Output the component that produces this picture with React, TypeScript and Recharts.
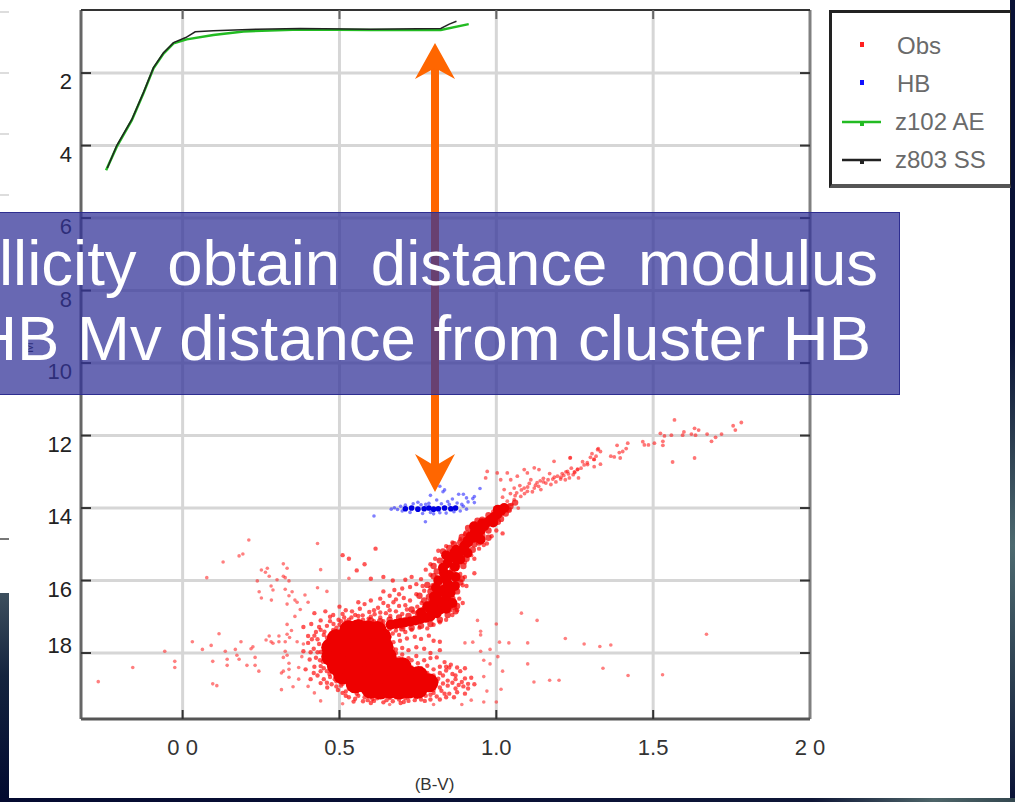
import { ComposedChart, Scatter, XAxis, YAxis, CartesianGrid, ReferenceLine, Legend } from "recharts";

type Pt = [number, number];

const xTicks = [0, 0.5, 1, 1.5, 2];
const xTickLabels = ["0 0", "0.5", "1.0", "1.5", "2 0"];
const yTicks = [2, 4, 6, 8, 10, 12, 14, 16, 18];
const xDomain = [-0.324, 2.0];
const yDomain = [0.26, 19.82];
const legendNames = ["Obs", "HB", "z102 AE", "z803 SS"];
const legendColors = ["#ff2020", "#1010ff", "#22bb22", "#222222"];

// main sequence turnoff, dense part
const obsCore: Pt[] = [
  [0.53, 17.36], [0.56, 17.33], [0.59, 17.36], [0.62, 17.38],
  [0.49, 17.6], [0.52, 17.58], [0.55, 17.6], [0.58, 17.6], [0.61, 17.58], [0.635, 17.56],
  [0.472, 17.85], [0.5, 17.84], [0.53, 17.85], [0.56, 17.86], [0.59, 17.84], [0.62, 17.85], [0.642, 17.83],
  [0.472, 18.1], [0.5, 18.1], [0.53, 18.12], [0.56, 18.1], [0.59, 18.1], [0.62, 18.12], [0.652, 18.1],
  [0.49, 18.35], [0.52, 18.36], [0.55, 18.35], [0.58, 18.34], [0.61, 18.36], [0.64, 18.35], [0.67, 18.36], [0.7, 18.38],
  [0.51, 18.6], [0.54, 18.6], [0.57, 18.62], [0.6, 18.6], [0.63, 18.6], [0.66, 18.62], [0.69, 18.6], [0.72, 18.6], [0.752, 18.62],
  [0.55, 18.85], [0.58, 18.84], [0.61, 18.85], [0.64, 18.86], [0.67, 18.84], [0.7, 18.85], [0.73, 18.84], [0.76, 18.85], [0.785, 18.82],
  [0.6, 19.0], [0.63, 19.02], [0.66, 19.0], [0.69, 19.02], [0.72, 19.0], [0.75, 19.0],
];

// subgiant branch up to the lower giant branch
const obsArm: Pt[] = [
  [0.663, 17.22], [0.695, 17.17], [0.726, 17.13], [0.758, 17.06], [0.79, 16.99], [0.822, 16.8], [0.844, 16.57],
  [0.854, 16.34], [0.833, 16.25], [0.801, 16.44], [0.78, 16.71], [0.844, 16.07], [0.833, 15.79], [0.844, 15.52],
  [0.865, 15.24], [0.876, 15.42], [0.897, 15.06], [0.918, 14.78], [0.939, 14.69], [0.961, 14.5], [0.982, 14.32],
  [1.003, 14.18], [1.025, 14.0], [0.929, 14.5], [0.95, 14.87], [0.908, 15.24], [0.81, 16.9], [0.76, 16.88],
  [0.68, 17.2], [0.71, 17.15], [0.742, 17.1], [0.775, 17.03], [0.806, 16.75], [0.83, 16.6], [0.815, 16.55], [0.84, 16.42],
  [0.82, 16.32], [0.85, 16.2], [0.84, 15.95], [0.85, 15.85], [0.83, 15.65], [0.855, 15.38], [0.84, 15.3], [0.872, 15.15],
  [0.885, 15.2], [0.908, 14.9], [0.928, 14.82], [0.95, 14.62], [0.971, 14.4], [0.992, 14.25], [1.014, 14.09], [0.94, 14.6],
  [0.86, 16.62], [0.8, 16.62], [0.79, 16.82], [0.84, 16.78], [0.808, 16.2], [0.868, 16.15], [0.87, 15.9], [0.815, 16.0],
  [0.868, 15.62], [0.885, 15.42], [0.9, 15.02], [0.93, 14.68], [0.955, 14.42], [0.99, 14.4], [1.005, 14.05], [0.91, 14.95],
];

// looser stars along the arm, bigger pale dots
const obsArmFuzz: Pt[] = [
  [0.66, 17.08], [0.69, 17.02], [0.72, 16.98], [0.75, 16.9], [0.73, 16.8], [0.77, 16.8], [0.79, 16.6], [0.77, 16.55],
  [0.755, 16.42], [0.79, 16.3], [0.8, 16.15], [0.865, 16.72], [0.86, 16.5], [0.875, 16.3], [0.885, 16.05], [0.87, 16.85], [0.845, 16.95],
  [0.82, 15.98], [0.81, 15.75], [0.86, 15.7], [0.875, 15.55], [0.82, 15.45], [0.89, 15.35], [0.83, 15.2], [0.865, 15.0],
  [0.885, 14.95], [0.905, 14.7], [0.93, 14.62], [0.905, 15.1], [0.93, 15.0], [0.955, 14.75], [0.975, 14.62], [0.99, 14.42],
  [1.005, 14.38], [1.03, 14.15], [0.975, 14.2], [0.955, 14.32], [1.0, 14.02], [1.045, 13.95], [1.06, 13.85],
  [0.7, 17.32], [0.73, 17.3], [0.76, 17.25], [0.79, 17.2], [0.82, 17.08], [0.85, 16.8], [0.875, 16.7], [0.6, 17.1], [0.63, 17.12],
  [0.785, 16.45], [0.78, 16.12], [0.8, 15.88], [0.89, 15.95], [0.895, 15.6], [0.905, 15.4], [0.8, 15.6], [0.85, 15.1],
  [0.925, 15.15], [0.945, 14.95], [0.975, 14.82], [0.89, 14.8], [0.91, 14.55], [0.94, 14.35], [1.015, 14.3], [1.04, 14.05],
];

const obsFringe: Pt[] = [
  [0.43, 17.62], [0.418, 17.88], [0.425, 18.13], [0.44, 18.36], [0.452, 17.41], [0.46, 17.25], [0.481, 17.2], [0.497, 17.08],
  [0.52, 17.13], [0.538, 17.02], [0.561, 17.1], [0.574, 16.96], [0.593, 17.05], [0.612, 16.93], [0.63, 17.02], [0.648, 16.9],
  [0.662, 16.98], [0.68, 16.85], [0.7, 16.92], [0.715, 16.8], [0.735, 16.87], [0.748, 16.72], [0.762, 16.62], [0.725, 16.55],
  [0.705, 16.48], [0.745, 16.38], [0.77, 16.28], [0.69, 16.38], [0.79, 16.2], [0.765, 16.15], [0.82, 16.1], [0.81, 15.9],
  [0.79, 15.84], [0.87, 16.14], [0.893, 16.13], [0.905, 16.15], [0.882, 16.5], [0.893, 16.62], [0.875, 16.82], [0.86, 16.95],
  [0.84, 17.08], [0.82, 17.15], [0.8, 17.22], [0.78, 17.32], [0.755, 17.3], [0.73, 17.36], [0.71, 17.42], [0.69, 17.5],
  [0.67, 17.46], [0.655, 17.63], [0.672, 17.7], [0.693, 17.66], [0.715, 17.6], [0.74, 17.55], [0.76, 17.61], [0.785, 17.52],
  [0.8, 17.66], [0.82, 17.69], [0.66, 17.82], [0.68, 17.9], [0.7, 17.86], [0.72, 17.92], [0.745, 17.84], [0.77, 17.88],
  [0.79, 18.0], [0.82, 17.92], [0.7, 18.04], [0.72, 18.14], [0.745, 18.08], [0.77, 18.2], [0.79, 18.14], [0.81, 18.12],
  [0.835, 18.25], [0.855, 18.32], [0.875, 18.4], [0.82, 18.38], [0.84, 18.48], [0.86, 18.58], [0.885, 18.5], [0.9, 18.42],
  [0.83, 18.62], [0.815, 18.71], [0.845, 18.76], [0.87, 18.72], [0.89, 18.8], [0.92, 18.68], [0.845, 18.9], [0.87, 18.98],
  [0.895, 18.92], [0.91, 18.85], [0.93, 18.86], [0.825, 19.04], [0.85, 19.12], [0.8, 19.1], [0.775, 19.18], [0.745, 19.22],
  [0.72, 19.17], [0.69, 19.28], [0.66, 19.24], [0.63, 19.2], [0.605, 19.27], [0.585, 19.12], [0.56, 19.18], [0.54, 19.03],
  [0.52, 19.06], [0.505, 18.9], [0.49, 18.78], [0.47, 18.66], [0.46, 18.5], [0.478, 18.44], [0.5, 18.7], [0.535, 18.9],
  [0.55, 19.26], [0.575, 19.33], [0.61, 19.32], [0.64, 19.36], [0.67, 19.33], [0.705, 19.35], [0.74, 19.3], [0.772, 19.32],
  [0.81, 19.2], [0.84, 19.22], [0.455, 17.75], [0.44, 17.97], [0.447, 18.24], [0.46, 17.58], [0.4, 17.72], [0.385, 17.95],
  [0.405, 18.18], [0.392, 18.45], [0.418, 18.55], [0.408, 18.72], [0.44, 18.83], [0.461, 18.95], [0.425, 17.42], [0.4, 17.53],
  [0.385, 17.28], [0.41, 17.2], [0.44, 17.1], [0.47, 17.0], [0.51, 16.92], [0.54, 16.85], [0.565, 16.78], [0.595, 16.87],
  [0.623, 16.75], [0.655, 16.7], [0.672, 16.6], [0.69, 16.7], [0.66, 16.42], [0.675, 16.26], [0.7, 16.22], [0.725, 16.18],
  [0.745, 16.1], [0.76, 15.96], [0.775, 15.7], [0.79, 15.55], [0.805, 15.4], [0.815, 15.18], [0.84, 15.05], [0.86, 14.95],
  [0.885, 14.86], [0.9, 14.72], [0.925, 14.62], [0.945, 14.42], [0.97, 14.3], [0.99, 14.1], [1.01, 14.02], [1.04, 14.05],
  [0.875, 15.62], [0.9, 15.5], [0.92, 15.3], [0.945, 15.12], [0.97, 14.98], [0.985, 14.78], [1.0, 14.62], [1.02, 14.7],
  [0.96, 15.02], [0.93, 15.4], [0.885, 15.82], [0.87, 15.95], [0.9, 15.9], [0.93, 15.8], [0.58, 16.65], [0.6, 16.55],
  [0.63, 16.5], [0.64, 16.3], [0.56, 16.6], [0.5, 16.72], [0.455, 16.85], [0.42, 16.9], [0.6, 15.95], [0.58, 15.55],
  [0.615, 15.12], [0.53, 15.4], [0.51, 15.3], [0.555, 15.72], [0.64, 15.9], [0.67, 16.0], [0.71, 15.98], [0.73, 15.9],
  [0.47, 17.12], [0.5, 17.22], [0.515, 17.02], [0.55, 17.15], [0.575, 17.08], [0.6, 17.0], [0.64, 17.12], [0.49, 17.3],
  [0.515, 17.25], [0.45, 17.5], [0.435, 17.75], [0.43, 17.98], [0.438, 18.2], [0.45, 18.42], [0.468, 18.58], [0.485, 18.72],
  [0.51, 18.85], [0.53, 18.98], [0.555, 19.12], [0.58, 19.22], [0.62, 19.25], [0.65, 19.3], [0.68, 19.22], [0.71, 19.25],
  [0.74, 19.14], [0.77, 19.1], [0.8, 19.02], [0.82, 18.95], [0.83, 18.84], [0.81, 18.78], [0.8, 18.62], [0.78, 18.55],
  [0.76, 18.42], [0.73, 18.4], [0.71, 18.22], [0.69, 18.14], [0.68, 18.0], [0.67, 17.88], [0.66, 17.7], [0.645, 17.42],
  [0.66, 17.34], [0.64, 17.22], [0.85, 18.4], [0.87, 18.62], [0.9, 18.7], [0.88, 18.88], [0.86, 18.82], [0.91, 18.98],
  [0.875, 19.08], [0.9, 19.12], [0.865, 19.22], [0.82, 19.28], [0.79, 19.28], [0.695, 19.38], [0.6, 19.38], [0.545, 19.34],
  [0.52, 19.18], [0.495, 19.02], [0.475, 18.86], [0.45, 18.72], [0.43, 18.62], [0.42, 18.38], [0.408, 17.98], [0.412, 17.62],
  [0.435, 17.28], [0.48, 16.95], [0.52, 16.82], [0.55, 16.95], [0.61, 16.82], [0.64, 16.62], [0.68, 16.52], [0.71, 16.68],
  [0.44, 17.36], [0.42, 17.52], [0.44, 18.5], [0.46, 18.82], [0.49, 18.92], [0.51, 19.1], [0.53, 19.22], [0.59, 19.3],
  [0.655, 19.15], [0.72, 19.32], [0.76, 19.28], [0.79, 19.15], [0.835, 19.12], [0.82, 18.55], [0.8, 18.45], [0.84, 18.38],
  [0.78, 18.35], [0.75, 18.28], [0.73, 18.2], [0.7, 18.18], [0.67, 17.96], [0.66, 17.55], [0.68, 17.38], [0.7, 17.28],
  [0.48, 17.36], [0.505, 17.12], [0.53, 17.08], [0.56, 16.98], [0.585, 17.18], [0.61, 17.12], [0.63, 16.88], [0.66, 16.82],
];

// sparse field stars, left and below the cluster
const obsField: Pt[] = [
  [-0.269, 18.79], [-0.159, 18.4], [-0.057, 17.95], [-0.025, 18.23], [-0.025, 18.4], [0.031, 17.69], [0.063, 17.9], [0.091, 17.79],
  [0.096, 18.23], [0.096, 18.85], [0.109, 18.9], [0.116, 17.47], [0.136, 17.95], [0.142, 18.17], [0.142, 18.34], [0.168, 17.9],
  [0.173, 18.06], [0.18, 18.17], [0.186, 17.69], [0.205, 18.34], [0.218, 17.88], [0.224, 17.83], [0.231, 18.12], [0.231, 18.34],
  [0.243, 18.5], [0.266, 17.64], [0.276, 17.53], [0.282, 17.69], [0.288, 17.73], [0.307, 17.53], [0.307, 17.69], [0.327, 17.69],
  [0.333, 17.48], [0.341, 17.57], [0.347, 17.38], [0.333, 17.21], [0.358, 16.99], [0.365, 17.69], [0.327, 17.95], [0.333, 18.06],
  [0.321, 18.12], [0.339, 18.28], [0.339, 18.45], [0.339, 18.67], [0.321, 18.5], [0.315, 18.55], [0.315, 19.01], [0.352, 18.93],
  [0.37, 18.4], [0.211, 14.88], [0.192, 15.27], [0.18, 15.32], [0.129, 15.49], [0.077, 15.92], [0.321, 15.54], [0.333, 15.66],
  [0.27, 15.66], [0.251, 15.71], [0.264, 15.77], [0.276, 15.88], [0.238, 16.01], [0.301, 15.98], [0.321, 15.88], [0.327, 15.92],
  [0.339, 16.01], [0.282, 16.15], [0.288, 16.26], [0.244, 16.31], [0.327, 16.24], [0.349, 16.31], [0.251, 16.48], [0.283, 16.54],
  [0.339, 16.42], [0.358, 16.54], [0.365, 16.6], [0.333, 16.65], [0.43, 14.98], [0.53, 15.94], [0.375, 16.8], [0.4, 16.6],
  [0.39, 16.4], [0.43, 16.2], [0.46, 16.3], [0.44, 15.7], [0.385, 17.75], [0.38, 18.1], [0.37, 18.72], [0.4, 18.92],
  [0.42, 19.1], [0.44, 19.32], [0.95, 17.95], [0.98, 17.9], [1.01, 17.7], [1.04, 17.72], [1.1, 17.72], [0.9, 17.72],
  [0.925, 17.7], [0.95, 17.5], [0.96, 18.2], [0.98, 18.3], [1.005, 18.1], [1.02, 18.5], [1.015, 19.0], [1.0, 19.35],
  [0.96, 18.65], [1.1, 18.3], [1.12, 18.8], [1.17, 18.75], [1.2, 18.75], [1.28, 17.75], [1.33, 17.82], [1.22, 17.6],
  [1.13, 17.1], [1.0, 17.2], [0.94, 17.1], [0.95, 17.4], [1.42, 18.62], [1.53, 18.6], [1.67, 17.48], [1.365, 17.78], [1.34, 18.42],
  [0.97, 19.05], [0.96, 19.35], [0.92, 19.3], [0.89, 19.42], [0.8, 19.42], [0.66, 19.42], [0.51, 19.4], [1.08, 16.9],
];

// red giant branch
const obsGiant: Pt[] = [
  [1.568, 11.57], [1.781, 11.64], [1.755, 11.73], [1.762, 11.85], [1.632, 11.8], [1.645, 11.85], [1.598, 11.9], [1.523, 11.94],
  [1.536, 12.01], [1.558, 11.99], [1.594, 11.99], [1.622, 11.96], [1.635, 11.99], [1.672, 11.96], [1.718, 11.96], [1.699, 12.05],
  [1.686, 12.16], [1.531, 12.16], [1.531, 12.27], [1.467, 12.17], [1.472, 12.26], [1.485, 12.26], [1.504, 12.21], [1.419, 12.21],
  [1.414, 12.36], [1.385, 12.27], [1.392, 12.47], [1.403, 12.44], [1.376, 12.59], [1.365, 12.57], [1.395, 12.62], [1.562, 12.73],
  [1.632, 12.62], [1.325, 12.36], [1.332, 12.44], [1.318, 12.57], [1.311, 12.66], [1.332, 12.79], [1.312, 12.86], [1.28, 12.81],
  [1.275, 12.72], [1.259, 12.93], [1.249, 13.0], [1.236, 12.61], [1.233, 13.17], [1.262, 13.17], [1.222, 13.0], [1.206, 13.15],
  [1.239, 12.9], [1.035, 13.81], [1.057, 13.77], [1.078, 13.68], [1.099, 13.54], [1.121, 13.45], [1.142, 13.49], [1.158, 13.31],
  [1.174, 13.35], [1.195, 13.12], [1.227, 12.99], [1.259, 12.94], [1.291, 12.8], [1.312, 12.66], [1.323, 12.39], [1.003, 13.03],
  [1.014, 13.22], [1.035, 13.03], [1.046, 13.22], [1.067, 13.12], [1.089, 12.94], [1.099, 13.03], [1.121, 12.89], [1.136, 12.94],
  [1.025, 13.49], [1.057, 13.45], [1.089, 13.45], [1.11, 13.22], [0.971, 12.99], [0.966, 13.17], [1.184, 12.71], [1.235, 12.62],
  [1.21, 13.05], [1.18, 13.2], [1.15, 13.18], [1.13, 13.3], [1.105, 13.32], [1.075, 13.38], [1.065, 13.58], [1.09, 13.6],
  [1.115, 13.55], [1.14, 13.25], [1.17, 13.05], [1.22, 13.22], [1.245, 13.08], [1.19, 13.28], [1.05, 13.9], [1.07, 14.0],
  [1.045, 13.6], [1.06, 13.66], [1.08, 13.5], [1.1, 13.42], [1.125, 13.37], [1.135, 13.4], [1.15, 13.28], [1.165, 13.22],
  [1.185, 13.15], [1.205, 13.2], [1.215, 13.1], [1.23, 13.06], [1.25, 13.02], [1.27, 12.9], [1.29, 12.75], [1.3, 12.6],
  [1.305, 12.5], [1.02, 13.7], [1.04, 13.92], [1.02, 13.95],
];

const hbCore: Pt[] = [
  [0.71, 14.02], [0.73, 14.0], [0.75, 14.03], [0.77, 14.02], [0.785, 14.0], [0.8, 14.03], [0.815, 14.02], [0.835, 14.0], [0.855, 14.02], [0.87, 14.0],
];

const hbFringe: Pt[] = [
  [0.665, 14.03], [0.675, 13.99], [0.685, 14.04], [0.61, 14.22], [0.774, 14.38], [0.71, 13.92], [0.735, 13.88], [0.76, 13.91],
  [0.785, 13.87], [0.81, 13.78], [0.825, 13.88], [0.85, 13.9], [0.875, 13.86], [0.895, 13.95], [0.905, 14.03], [0.885, 14.08],
  [0.8, 14.16], [0.765, 14.15], [0.84, 14.14], [0.82, 13.4], [0.835, 13.5], [0.83, 13.55], [0.79, 13.65], [0.86, 13.75],
  [0.88, 13.62], [0.895, 13.62], [0.905, 13.72], [0.925, 13.74], [0.93, 13.68], [0.91, 13.83], [0.948, 13.46], [0.93, 13.85],
  [0.695, 13.95], [0.7, 14.08], [0.725, 14.12], [0.75, 13.84], [0.775, 13.9], [0.79, 14.12], [0.82, 14.13], [0.845, 13.82], [0.865, 14.1], [0.89, 13.9],
];

// two isochrones, drawn as lines
const isoAE: Pt[] = [
  [-0.244, 4.68], [-0.21, 4.03], [-0.162, 3.3], [-0.125, 2.56], [-0.093, 1.87], [-0.061, 1.46], [-0.029, 1.18], [0.013, 1.07],
  [0.098, 0.95], [0.194, 0.85], [0.375, 0.8], [0.6, 0.81], [0.823, 0.81], [0.912, 0.65],
];
const isoSS: Pt[] = [
  [-0.24, 4.62], [-0.21, 4.0], [-0.162, 3.28], [-0.125, 2.54], [-0.093, 1.85], [-0.061, 1.44], [-0.029, 1.16], [0.01, 1.02], [0.04, 0.86],
  [0.098, 0.83], [0.237, 0.79], [0.375, 0.77], [0.6, 0.79], [0.823, 0.77], [0.85, 0.65], [0.873, 0.57],
];

const leftoverTicks = [11, 72, 133, 194, 538];

const toXY = (pts: Pt[]) => pts.map(([x, y]) => ({ x, y }));

const dot = (r: number, fill: string, opacity = 1) => (p: any) =>
  <circle cx={p.cx} cy={p.cy} r={r} fill={fill} fillOpacity={opacity} />;
const noDot = () => <g />;

const PLOT_L = 81;
const PLOT_R = 810;
const PLOT_T = 10;
const PLOT_B = 719;

const YTick = ({ x, y, payload }: any) => (
  <g>
    <line x1={PLOT_L} x2={PLOT_L + 10} y1={y} y2={y} stroke="#333" strokeWidth={2} />
    <line x1={PLOT_R - 10} x2={PLOT_R} y1={y} y2={y} stroke="#333" strokeWidth={2} />
    <text x={x} y={y} dy={payload.value === 18 ? 0 : 16} textAnchor="end" fontSize={22} fill="#222" fontFamily="Liberation Sans">
      {payload.value}
    </text>
  </g>
);

const XTick = ({ x, y, payload, index }: any) => (
  <g>
    {index < 4 && <line x1={x} x2={x} y1={PLOT_B - 9} y2={PLOT_B} stroke="#333" strokeWidth={2} />}
    {index < 4 && <line x1={x} x2={x} y1={PLOT_T} y2={PLOT_T + 9} stroke="#666" strokeWidth={2} />}
    <text x={x} y={y} dy={28} textAnchor="middle" fontSize={22} fill="#333" fontFamily="Liberation Sans">
      {xTickLabels[xTicks.indexOf(payload.value)]}
    </text>
  </g>
);

const LegendBox = () => (
  <div
    style={{
      position: "absolute",
      left: 829,
      top: 10,
      width: 178,
      height: 171,
      borderTop: "3px solid #222",
      borderLeft: "3px solid #222",
      borderRight: "1px solid #222",
      borderBottom: "4px solid #555",
      background: "#fff",
    }}
  >
    {legendNames.map((name, i) => (
      <div key={name} style={{ position: "absolute", left: 0, top: 21 + i * 38, height: 30, width: 170 }}>
        <svg width={60} height={24} style={{ position: "absolute", left: 9, top: 0 }}>
          {i > 1 && <line x1={1} x2={40} y1={12} y2={12} stroke={legendColors[i]} strokeWidth={2.5} />}
          <rect x={19} y={i > 1 ? 11 : 8} width={4} height={5} fill={legendColors[i]} />
        </svg>
        <span style={{ position: "absolute", left: i > 1 ? 63 : 65, top: -2, fontSize: 24, color: "#6a6a6a", fontFamily: "Liberation Sans", whiteSpace: "pre" }}>
          {name}
        </span>
      </div>
    ))}
  </div>
);

export default function App() {
  return (
    <div
      style={{
        position: "fixed",
        left: 0,
        top: 0,
        width: 1015,
        height: 802,
        overflow: "hidden",
        background: "#fff",
        fontFamily: "Liberation Sans",
      }}
    >
      {/* slide background showing at the edges */}
      <div style={{ position: "absolute", left: 1010, top: 0, width: 5, height: 802, background: "linear-gradient(#0a1236 0%, #0a1236 42%, #2c3e50 55%, #4d6a70 68%, #2c3e50 85%, #0a1236 100%)" }} />
      <div style={{ position: "absolute", left: 0, top: 798, width: 1015, height: 4, background: "linear-gradient(90deg, #040a30 0%, #0a1236 55%, #0e1636 80%, #4d6468 92%, #33474f 100%)" }} />
      <div style={{ position: "absolute", left: 0, top: 593, width: 9, height: 205, background: "linear-gradient(#3d4f5e 0%, #14243e 40%, #020a30 100%)" }} />
      {leftoverTicks.map((t) => (
        <div key={t} style={{ position: "absolute", left: 0, top: t, width: 9, height: 2, background: t > 500 ? "#777" : "#ddd" }} />
      ))}

      <ComposedChart width={1015} height={802} margin={{ top: PLOT_T, right: 1015 - PLOT_R, bottom: 0, left: 0 }}>
        <CartesianGrid stroke="#d6d6d6" strokeWidth={3} horizontalValues={yTicks} verticalValues={xTicks.slice(0, 4)} />
        <XAxis
          type="number"
          dataKey="x"
          domain={xDomain}
          ticks={xTicks}
          allowDataOverflow
          axisLine={false}
          tickLine={false}
          height={802 - PLOT_B}
          tick={<XTick />}
          label={{ value: "(B-V)", position: "insideBottom", offset: 12, dx: -11, fontSize: 17, fill: "#333", fontFamily: "Liberation Sans" }}
        />
        <YAxis
          type="number"
          dataKey="y"
          reversed
          domain={yDomain}
          ticks={yTicks}
          allowDataOverflow
          interval={0}
          axisLine={false}
          tickLine={false}
          width={PLOT_L}
          tickMargin={3}
          tick={<YTick />}
        />
        <Scatter name="Obs" data={toXY(obsField)} fill="#ff0000" shape={dot(1.8, "#ff2a2a", 0.6)} isAnimationActive={false} />
        <Scatter name="HB" data={toXY(hbFringe)} fill="#0000ff" shape={dot(1.8, "#2a2aff", 0.6)} isAnimationActive={false} />
        <Scatter name="obsGiant" legendType="none" data={toXY(obsGiant)} shape={dot(1.9, "#ff1a1a", 0.6)} isAnimationActive={false} />
        <Scatter name="obsFringe" legendType="none" data={toXY(obsFringe)} shape={dot(2.2, "#ff1010", 0.7)} isAnimationActive={false} />
        <Scatter name="obsArmFuzz" legendType="none" data={toXY(obsArmFuzz)} shape={dot(3.2, "#f20808", 0.75)} isAnimationActive={false} />
        <Scatter name="obsArm" legendType="none" data={toXY(obsArm)} shape={dot(5, "#ee0000")} isAnimationActive={false} />
        <Scatter name="obsCore" legendType="none" data={toXY(obsCore)} shape={dot(9.5, "#ee0000")} isAnimationActive={false} />
        <Scatter name="hbCore" legendType="none" data={toXY(hbCore)} shape={dot(2.8, "#0000e0")} isAnimationActive={false} />
        <Scatter name="z102 AE" data={toXY(isoAE)} fill="#22bb22" line={{ stroke: "#22bb22", strokeWidth: 2.5 }} shape={noDot} isAnimationActive={false} />
        <Scatter name="z803 SS" data={toXY(isoSS)} fill="#222222" line={{ stroke: "#222222", strokeWidth: 1.5 }} shape={noDot} isAnimationActive={false} />
        <ReferenceLine x={xDomain[0]} stroke="#666" strokeWidth={3} />
        <ReferenceLine x={xDomain[1]} stroke="#808080" strokeWidth={3} />
        <ReferenceLine y={yDomain[0]} stroke="#333" strokeWidth={2} />
        <ReferenceLine y={yDomain[1]} stroke="#555" strokeWidth={3} />
        <Legend layout="vertical" align="center" verticalAlign="top" wrapperStyle={{ position: "absolute", left: 0, top: 0, width: 0, height: 0 }} content={<LegendBox />} />
      </ComposedChart>

      {/* rotated y axis title, mostly under the banner */}
      <div style={{ position: "absolute", left: 23, top: 340, fontSize: 13, color: "#222", transform: "rotate(-90deg)" }}>M</div>

      {/* double arrow from the isochrone HB to the cluster HB */}
      <svg width={1015} height={802} style={{ position: "absolute", left: 0, top: 0 }}>
        <rect x={431} y={60} width={8} height={415} fill="#ff6600" />
        <polygon points="435,43 455,79 435,68 415,79" fill="#ff6600" />
        <polygon points="435,492 455,454 435,466 415,454" fill="#ff6600" />
      </svg>

      {/* slide caption */}
      <div
        style={{
          position: "absolute",
          left: -40,
          top: 212,
          width: 940,
          height: 183,
          boxSizing: "border-box",
          background: "rgba(51,51,153,0.74)",
          border: "1px solid #2e2e90",
          color: "#fff",
          fontSize: 63.5,
          fontFamily: "Liberation Sans",
        }}
      >
        <div style={{ position: "absolute", right: 21, top: 14, whiteSpace: "pre", wordSpacing: 13 }}>metallicity obtain distance modulus</div>
        <div style={{ position: "absolute", right: 28, top: 89, whiteSpace: "pre" }}>HB Mv distance from cluster HB</div>
      </div>
    </div>
  );
}
